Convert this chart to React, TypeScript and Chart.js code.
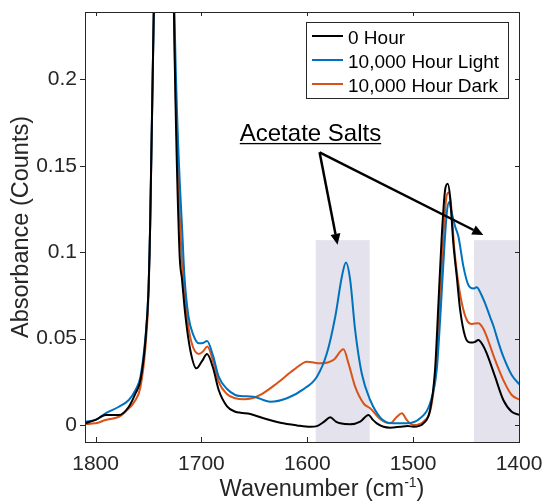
import { useEffect, useRef } from 'react';
import { Chart, registerables } from 'chart.js';

Chart.register(...registerables);

// ---------- data ----------
const seriesLabels = ['0 Hour', '10,000 Hour Light', '10,000 Hour Dark'];
const seriesColors = ['#000000', '#0072BD', '#D95319'];

const xTicks = [1800, 1700, 1600, 1500, 1400];
const yTicks = [0, 0.05, 0.1, 0.15, 0.2];

const wnBlack = [1810, 1800, 1790.6, 1778, 1768.6, 1762.3, 1757.6, 1752.9, 1750, 1749, 1745, 1742, 1736, 1731, 1726, 1720.8, 1718.3, 1715.1, 1710.4, 1704.8, 1699.5, 1694.7, 1689, 1683.7, 1676, 1668, 1663, 1653.8, 1641.3, 1625.5, 1609.8, 1597.2, 1590.9, 1584, 1578.3, 1573, 1568.9, 1559.5, 1550, 1542.2, 1538, 1534.3, 1528, 1521.7, 1512.3, 1505, 1499.7, 1490.3, 1484, 1479.3, 1476.1, 1473, 1469.8, 1467.3, 1465.1, 1462, 1458.8, 1455.6, 1450.9, 1446.2, 1442, 1438.4, 1434, 1430.5, 1422.6, 1414.8, 1406.9, 1399];
const absBlack = [0.001, 0.003, 0.0058, 0.0058, 0.0106, 0.0183, 0.026, 0.049, 0.078, 0.1, 0.24, 0.45, 0.75, 0.5, 0.24, 0.101, 0.084, 0.063, 0.043, 0.0328, 0.037, 0.0411, 0.033, 0.0203, 0.011, 0.0077, 0.0071, 0.0064, 0.0039, 0.0013, -0.0002, -0.001, -0.0006, 0.002, 0.0045, 0.002, 0.001, 0.0004, 0.002, 0.0058, 0.003, 0.001, -0.001, -0.0015, -0.001, -0.0005, -0.001, 0.001, 0.0087, 0.032, 0.0705, 0.109, 0.136, 0.1396, 0.132, 0.105, 0.086, 0.0666, 0.0512, 0.0477, 0.048, 0.0492, 0.046, 0.0415, 0.028, 0.0145, 0.0077, 0.0058];

const wnLight = [1810, 1800, 1790.6, 1778, 1768.6, 1762.3, 1757.6, 1752.9, 1750, 1749, 1745, 1742, 1736, 1731, 1725.5, 1717.3, 1715.8, 1712.3, 1707.6, 1702.6, 1698.5, 1694.7, 1689, 1683.7, 1676, 1668, 1663, 1650.7, 1635, 1619.2, 1603.5, 1590.9, 1581.5, 1573.6, 1567.3, 1563.5, 1559.5, 1554.8, 1548.6, 1540.6, 1531.2, 1521.7, 1506, 1493.4, 1484, 1477.7, 1474.5, 1471.4, 1468.2, 1466, 1463.5, 1460.4, 1457.2, 1452.5, 1447.8, 1443, 1439.9, 1436, 1432.1, 1427, 1424, 1419, 1414.8, 1406.9, 1399];
const absLight = [0.002, 0.003, 0.0068, 0.0106, 0.0145, 0.0203, 0.028, 0.051, 0.078, 0.1, 0.24, 0.45, 0.75, 0.5, 0.24, 0.101, 0.084, 0.063, 0.052, 0.0473, 0.0475, 0.0487, 0.04, 0.028, 0.021, 0.0174, 0.0168, 0.0164, 0.0135, 0.0155, 0.0208, 0.028, 0.0415, 0.0627, 0.086, 0.094, 0.084, 0.055, 0.03, 0.0145, 0.0045, 0.0012, 0.001, 0.0039, 0.0126, 0.032, 0.061, 0.094, 0.1227, 0.129, 0.1227, 0.115, 0.109, 0.0917, 0.081, 0.079, 0.0798, 0.076, 0.0705, 0.062, 0.057, 0.047, 0.0396, 0.029, 0.0232];

const wnDark = [1810, 1800, 1790.6, 1778, 1771.8, 1762.3, 1757.6, 1752.9, 1750, 1749, 1745, 1742, 1736, 1731, 1726, 1719, 1717, 1713.7, 1709.5, 1702.6, 1698.5, 1694.5, 1689, 1683.7, 1676, 1668, 1660, 1652, 1644.4, 1628.6, 1612.9, 1600.3, 1587.8, 1575.2, 1565.8, 1561.1, 1554.8, 1546.9, 1540.6, 1531.2, 1521.7, 1515.4, 1510.7, 1506, 1499.7, 1490.3, 1482.4, 1477.7, 1474.5, 1471.4, 1468.9, 1466.7, 1464.4, 1461.3, 1458.2, 1454, 1449.3, 1444.6, 1438.4, 1434, 1430.5, 1422.6, 1414.8, 1406.9, 1399];
const absDark = [0.0006, 0.001, 0.0029, 0.0048, 0.0077, 0.0145, 0.022, 0.045, 0.075, 0.1, 0.24, 0.45, 0.75, 0.5, 0.24, 0.101, 0.084, 0.063, 0.048, 0.0411, 0.0425, 0.0454, 0.037, 0.025, 0.018, 0.0155, 0.0149, 0.0155, 0.0174, 0.0242, 0.0319, 0.0367, 0.0357, 0.0377, 0.0438, 0.0357, 0.0222, 0.0126, 0.0097, 0.0035, 0.001, 0.0048, 0.0068, 0.0029, 0.0, 0.002, 0.0126, 0.0396, 0.0743, 0.109, 0.1304, 0.1346, 0.1284, 0.1033, 0.086, 0.0705, 0.0608, 0.0585, 0.0589, 0.056, 0.0512, 0.0377, 0.026, 0.0174, 0.0145];

// shaded regions [from, to] in wavenumber, up to absorbance shadeTop
const shadeRanges: [number, number][] = [[1592, 1541], [1442.5, 1400]];
const shadeTop = 0.107;

const annotationText = 'Acetate Salts';
const annotationAnchor = [1597, 0.1641]; // text centre x, baseline y
const arrowStart = [1588.4, 0.1578];
const arrowEnds = [[1571.4, 0.1043], [1433.7, 0.110]];

const xTitle = 'Wavenumber (cm';
const xTitleSup = '-1';
const xTitleEnd = ')';
const yTitle = 'Absorbance (Counts)';

const FONT = '"Liberation Sans", Arial, sans-serif';
const AX = '#262626';

function zip(xs: number[], ys: number[]) {
  return xs.map((x, i) => ({ x, y: ys[i] }));
}

const overlay = {
  id: 'overlay',
  beforeDatasetsDraw(chart: any) {
    const { ctx, chartArea, scales } = chart;
    const x = scales.x, y = scales.y;
    ctx.save();
    ctx.fillStyle = 'rgb(228,226,237)';
    for (const [a, b] of shadeRanges) {
      const x1 = x.getPixelForValue(a);
      const x2 = Math.min(x.getPixelForValue(b), chartArea.right);
      const yt = y.getPixelForValue(shadeTop);
      ctx.fillRect(Math.min(x1, x2), yt, Math.abs(x2 - x1), chartArea.bottom - yt);
    }
    ctx.restore();
  },
  afterDraw(chart: any) {
    const { ctx, chartArea: ca, scales } = chart;
    const x = scales.x, y = scales.y;
    ctx.save();
    // box
    ctx.strokeStyle = AX;
    ctx.lineWidth = 1;
    ctx.strokeRect(Math.round(ca.left) + 0.5, Math.round(ca.top) + 0.5, Math.round(ca.right - ca.left), Math.round(ca.bottom - ca.top));
    // ticks
    ctx.beginPath();
    for (const v of xTicks) {
      const px = Math.round(x.getPixelForValue(v)) + 0.5;
      ctx.moveTo(px, ca.bottom);
      ctx.lineTo(px, ca.bottom - 5);
      ctx.moveTo(px, ca.top);
      ctx.lineTo(px, ca.top + 4);
    }
    for (const v of yTicks) {
      const py = Math.round(y.getPixelForValue(v)) + 0.5;
      ctx.moveTo(ca.left, py);
      ctx.lineTo(ca.left - 5, py);
      ctx.moveTo(ca.right, py);
      ctx.lineTo(ca.right - 4, py);
    }
    ctx.stroke();

    // legend
    const lx = 306.5, ly = 22.5, lw = 202, lh = 76;
    ctx.fillStyle = '#ffffff';
    ctx.fillRect(lx, ly, lw, lh);
    ctx.strokeStyle = AX;
    ctx.lineWidth = 1;
    ctx.strokeRect(lx, ly, lw, lh);
    ctx.font = `19px ${FONT}`;
    ctx.textBaseline = 'alphabetic';
    ctx.textAlign = 'left';
    seriesLabels.forEach((lab, i) => {
      const cy = 36 + i * 24;
      ctx.strokeStyle = seriesColors[i];
      ctx.lineWidth = 2;
      ctx.beginPath();
      ctx.moveTo(312, cy);
      ctx.lineTo(343, cy);
      ctx.stroke();
      ctx.fillStyle = '#000000';
      ctx.fillText(lab, 348, cy + 8);
    });

    // annotation
    ctx.font = `24px ${FONT}`;
    ctx.fillStyle = '#000000';
    const tx = x.getPixelForValue(annotationAnchor[0]);
    const ty = y.getPixelForValue(annotationAnchor[1]);
    const tw = ctx.measureText(annotationText).width;
    ctx.textAlign = 'center';
    ctx.fillText(annotationText, tx, ty);
    ctx.fillRect(tx - tw / 2, ty + 1.5, tw, 1.3);
    const sx = x.getPixelForValue(arrowStart[0]);
    const sy = y.getPixelForValue(arrowStart[1]);
    for (const [ex0, ey0] of arrowEnds) {
      const ex = x.getPixelForValue(ex0);
      const ey = y.getPixelForValue(ey0);
      const ang = Math.atan2(ey - sy, ex - sx);
      const hl = 11, hw = 5;
      const bx = ex - hl * Math.cos(ang), by = ey - hl * Math.sin(ang);
      ctx.strokeStyle = '#000000';
      ctx.lineWidth = 2.5;
      ctx.beginPath();
      ctx.moveTo(sx, sy);
      ctx.lineTo(bx, by);
      ctx.stroke();
      ctx.beginPath();
      ctx.moveTo(ex, ey);
      ctx.lineTo(bx + hw * Math.sin(ang), by - hw * Math.cos(ang));
      ctx.lineTo(bx - hw * Math.sin(ang), by + hw * Math.cos(ang));
      ctx.closePath();
      ctx.fill();
    }

    // axis titles
    ctx.fillStyle = AX;
    ctx.textAlign = 'left';
    ctx.font = `23.5px ${FONT}`;
    const w1 = ctx.measureText(xTitle).width;
    const w3 = ctx.measureText(xTitleEnd).width;
    ctx.font = `14px ${FONT}`;
    const w2 = ctx.measureText(xTitleSup).width;
    const total = w1 + w2 + w3;
    const cx = 322;
    let px = cx - total / 2;
    const base = 496;
    ctx.font = `23.5px ${FONT}`;
    ctx.fillText(xTitle, px, base);
    px += w1;
    ctx.font = `14px ${FONT}`;
    ctx.fillText(xTitleSup, px, base - 9);
    px += w2;
    ctx.font = `23.5px ${FONT}`;
    ctx.fillText(xTitleEnd, px, base);

    ctx.translate(28, (ca.top + ca.bottom) / 2);
    ctx.rotate(-Math.PI / 2);
    ctx.textAlign = 'center';
    ctx.fillText(yTitle, 0, 0);
    ctx.restore();
  },
};

export default function App() {
  const ref = useRef<HTMLCanvasElement | null>(null);
  useEffect(() => {
    document.body.style.margin = '0';
    const canvas = ref.current;
    if (!canvas) return;
    const datasets = [
      zip(wnBlack, absBlack),
      zip(wnLight, absLight),
      zip(wnDark, absDark),
    ].map((data, i) => ({
      label: seriesLabels[i],
      data,
      borderColor: seriesColors[i],
      backgroundColor: seriesColors[i],
      borderWidth: 2,
      pointRadius: 0,
      fill: false,
      cubicInterpolationMode: 'monotone' as const,
    }));
    const chart = new Chart(canvas, {
      type: 'line',
      data: { datasets },
      options: {
        animation: false,
        responsive: false,
        devicePixelRatio: 1,
        layout: { padding: { left: 0, right: 24, top: 12, bottom: 0 } },
        plugins: { legend: { display: false }, tooltip: { enabled: false } },
        scales: {
          x: {
            type: 'linear',
            reverse: true,
            min: 1400,
            max: 1810,
            grid: { display: false, drawTicks: false },
            border: { display: false },
            afterBuildTicks: (s: any) => { s.ticks = xTicks.map((v) => ({ value: v })); },
            afterFit: (s: any) => { s.height = 59; s.paddingLeft = 0; s.paddingRight = 0; },
            ticks: {
              padding: 10,
              maxRotation: 0,
              autoSkip: false,
              color: AX,
              font: { family: FONT, size: 21 },
              callback: (v: any) => String(v),
            },
          },
          y: {
            type: 'linear',
            min: -0.0098,
            max: 0.239,
            grid: { display: false, drawTicks: false },
            border: { display: false },
            afterBuildTicks: (s: any) => { s.ticks = yTicks.map((v) => ({ value: v })); },
            afterFit: (s: any) => { s.width = 85; s.paddingTop = 0; s.paddingBottom = 0; },
            ticks: {
              padding: 8,
              autoSkip: false,
              color: AX,
              font: { family: FONT, size: 21 },
              callback: (v: any) => String(v),
            },
          },
        },
      },
      plugins: [overlay],
    });
    return () => chart.destroy();
  }, []);
  return (
    <div style={{ width: 543, height: 501, background: '#fff' }}>
      <canvas ref={ref} width={543} height={501} />
    </div>
  );
}
